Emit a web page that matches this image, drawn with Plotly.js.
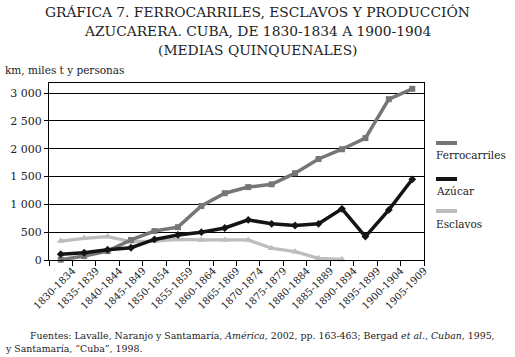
<!DOCTYPE html>
<html>
<head>
<meta charset="utf-8">
<script src="https://cdn.plot.ly/plotly-3.0.1.min.js"></script>
<style>html,body{margin:0;padding:0;background:#fff;}#chart{width:515px;height:357px;}</style>
</head>
<body>
<div id="chart"></div>
<script>
const periods = ['1830-1834','1835-1839','1840-1844','1845-1849','1850-1854','1855-1859','1860-1864','1865-1869','1870-1874','1875-1879','1880-1884','1885-1889','1890-1894','1895-1899','1900-1904','1905-1909'];
const ferrocarriles = [5, 70, 160, 360, 520, 590, 970, 1200, 1310, 1360, 1560, 1815, 1990, 2190, 2890, 3075];
const azucar = [105, 130, 185, 220, 370, 450, 500, 575, 720, 650, 620, 650, 920, 420, 900, 1450];
const esclavos = [340, 390, 420, 330, 340, 370, 360, 360, 360, 210, 150, 30, 10];
const seriesNames = ['Ferrocarriles', 'Azúcar', 'Esclavos'];
const titleLines = ['GRÁFICA 7. FERROCARRILES, ESCLAVOS Y PRODUCCIÓN', 'AZUCARERA. CUBA, DE 1830-1834 A 1900-1904', '(MEDIAS QUINQUENALES)'];

const FONT = '"DejaVu Serif", serif';
const cFerro = '#767676', cAzu = '#141414', cEsc = '#bdbdbd';

const traces = [
  {x: periods.slice(0, esclavos.length), y: esclavos, name: seriesNames[2], type: 'scatter', mode: 'lines+markers',
   line: {color: cEsc, width: 3.2}, marker: {symbol: 'triangle-up', size: 7, color: cEsc}, cliponaxis: false},
  {x: periods, y: ferrocarriles, name: seriesNames[0], type: 'scatter', mode: 'lines+markers',
   line: {color: cFerro, width: 3.5}, marker: {symbol: 'square', size: 6, color: cFerro}, cliponaxis: false},
  {x: periods, y: azucar, name: seriesNames[1], type: 'scatter', mode: 'lines+markers',
   line: {color: cAzu, width: 3.5}, marker: {symbol: 'diamond', size: 6, color: cAzu}, cliponaxis: false}
];

// plot area in px: left 49, right 424, top 83, bottom 260
const L = 49, R = 424, T = 83, B = 260;
const px = v => (v - L) / (R - L);
const py = v => (B - v) / (B - T);

const legendItems = [
  {name: seriesNames[0], color: cFerro, sym: 143, txt: 155},
  {name: seriesNames[1], color: cAzu, sym: 179, txt: 191},
  {name: seriesNames[2], color: cEsc, sym: 211, txt: 224}
];
const shapes = [], annotations = [];
legendItems.forEach(it => {
  shapes.push({type: 'line', xref: 'paper', yref: 'paper', x0: px(436), x1: px(457), y0: py(it.sym), y1: py(it.sym),
    line: {color: it.color, width: 4}});
  shapes.push({type: 'rect', xref: 'paper', yref: 'paper', x0: px(445), x1: px(448.5), y0: py(it.sym - 1.8), y1: py(it.sym + 1.8),
    line: {width: 0}, fillcolor: it.color});
  annotations.push({xref: 'paper', yref: 'paper', x: px(434), y: py(it.txt), xanchor: 'left', yanchor: 'middle',
    text: it.name, showarrow: false, font: {family: FONT, size: 10.5, color: '#222'}});
});
[12, 31, 50].forEach((yy, i) => {
  annotations.push({xref: 'paper', yref: 'paper', x: px(257.5), y: py(yy), xanchor: 'center', yanchor: 'middle',
    text: titleLines[i], showarrow: false, font: {family: FONT, size: 13.8, color: '#222'}});
});
annotations.push({xref: 'paper', yref: 'paper', x: px(3), y: py(70), xanchor: 'left', yanchor: 'middle',
  text: 'km, miles t y personas', showarrow: false, font: {family: FONT, size: 10.5, color: '#222'}});
annotations.push({xref: 'paper', yref: 'paper', x: px(28), y: py(335), xanchor: 'left', yanchor: 'middle',
  text: 'Fuentes: Lavalle, Naranjo y Santamaría, <i>América</i>, 2002, pp. 163-463; Bergad <i>et al</i>., <i>Cuban</i>, 1995,',
  showarrow: false, font: {family: FONT, size: 9.4, color: '#222'}});
annotations.push({xref: 'paper', yref: 'paper', x: px(3), y: py(348), xanchor: 'left', yanchor: 'middle',
  text: 'y Santamaría, “Cuba”, 1998.', showarrow: false, font: {family: FONT, size: 9.4, color: '#222'}});

const layout = {
  width: 515, height: 357,
  margin: {l: L, r: 515 - R, t: T, b: 357 - B},
  paper_bgcolor: '#fff', plot_bgcolor: '#fff',
  showlegend: false,
  separators: '. ',
  font: {family: FONT, color: '#222'},
  xaxis: {type: 'category', categoryorder: 'array', categoryarray: periods,
    range: [-0.5, periods.length - 0.5], tickson: 'boundaries', ticks: 'outside', ticklen: 5, tickcolor: '#000',
    tickangle: -45, ticklabelshift: 12, tickfont: {family: FONT, size: 10, color: '#222'},
    showline: true, linecolor: '#000', linewidth: 1, mirror: true, showgrid: false, zeroline: false},
  yaxis: {range: [0, 3180], tickvals: [0, 500, 1000, 1500, 2000, 2500, 3000], separatethousands: true,
    ticks: 'outside', ticklen: 4, tickcolor: '#000', tickfont: {family: FONT, size: 11, color: '#222'},
    showline: true, linecolor: '#000', linewidth: 1, mirror: true,
    showgrid: true, gridcolor: '#000', gridwidth: 1, zeroline: false},
  shapes: shapes,
  annotations: annotations
};

Plotly.newPlot('chart', traces, layout, {displayModeBar: false, staticPlot: true});
</script>
</body>
</html>
